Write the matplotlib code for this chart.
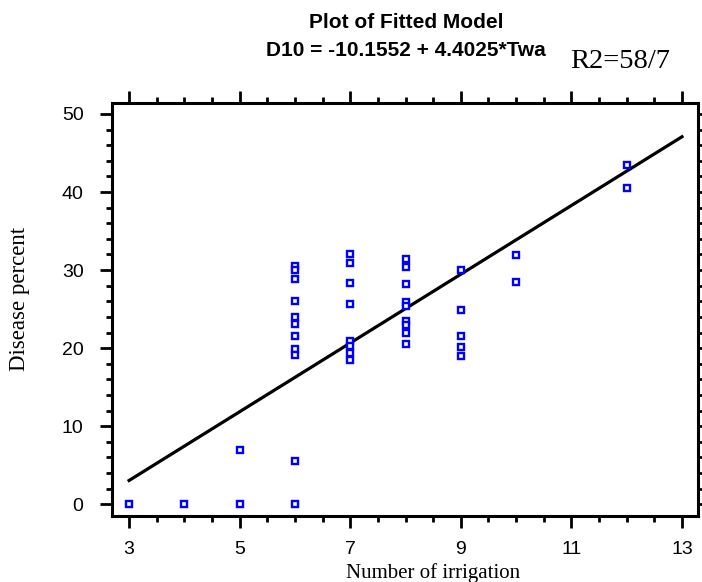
import numpy as np
import matplotlib
matplotlib.use('Agg')
import matplotlib.pyplot as plt
from matplotlib.ticker import MultipleLocator

# observed points: number of irrigations vs disease percent
irrigation = [3, 4, 5, 5, 6, 6,
              6, 6, 6, 6, 6, 6, 6, 6, 6,
              7, 7, 7, 7, 7, 7, 7, 7,
              8, 8, 8, 8, 8, 8, 8, 8, 8,
              9, 9, 9, 9, 9,
              10, 10,
              12, 12]
disease = [0, 0, 0, 6.9, 0, 5.5,
           30.5, 30.0, 28.9, 26.0, 24.0, 23.1, 21.5, 19.9, 19.1,
           32.0, 30.9, 28.4, 25.7, 20.9, 20.3, 19.4, 18.5,
           31.4, 30.4, 28.2, 25.9, 25.4, 23.5, 23.0, 22.0, 20.5,
           30.0, 24.9, 21.6, 20.1, 19.0,
           31.9, 28.5,
           43.5, 40.5]

intercept = -10.1552
slope = 4.4025
fit_x = np.array([3, 13])

fig = plt.figure(figsize=(7.02, 5.82), dpi=100)
ax = fig.add_axes([0.1595, 0.1134, 0.8348, 0.7096])

ax.plot(fit_x, intercept + slope * fit_x, color='black', lw=2.3)
ax.plot(irrigation, disease, ls='none', marker='s', ms=3.8, mfc='white',
        mec='#0000ff', mew=1.7)

ax.set_xlim(2.69, 13.29)
ax.set_ylim(-1.5, 51.4)
ax.xaxis.set_minor_locator(MultipleLocator(0.5))
ax.yaxis.set_major_locator(MultipleLocator(10))
ax.yaxis.set_minor_locator(MultipleLocator(2))
ax.set_xticks([3, 5, 7, 9, 11, 13])

for s in ax.spines.values():
    s.set_linewidth(2.2)
ax.tick_params(which='both', direction='out', top=True, right=True,
               width=2, labelsize=14)
ax.tick_params(which='major', length=8.5)
ax.tick_params(which='minor', length=4.5)
ax.tick_params(axis='x', which='major', pad=9.5)
ax.tick_params(axis='y', which='major', pad=12)
for lab in ax.get_xticklabels() + ax.get_yticklabels():
    lab.set_family('Liberation Sans')

ax.set_xlabel('Number of irrigation', family='Liberation Serif', fontsize=15,
              va='center')
ax.set_ylabel('Disease percent', family='Liberation Serif', fontsize=16.5,
              va='center')
ax.xaxis.set_label_coords(0.548, -0.138)
ax.yaxis.set_label_coords(-0.157, 0.525)

fig.text(406 / 702, 1 - 22 / 582, 'Plot of Fitted Model', ha='center',
         va='center', family='Liberation Sans', fontweight='bold', fontsize=15)
fig.text(406 / 702, 1 - 50 / 582, 'D10 = -10.1552 + 4.4025*Twa', ha='center',
         va='center', family='Liberation Sans', fontweight='bold', fontsize=15)
fig.text(620 / 702, 1 - 62 / 582, 'R2=58/7', ha='center', va='center',
         family='Liberation Serif', fontsize=20.5)

fig.savefig('out.png', dpi=100)
